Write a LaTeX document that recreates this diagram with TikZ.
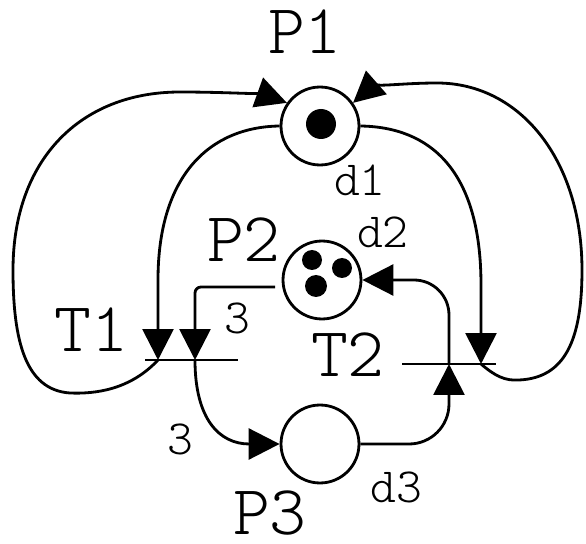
\documentclass[tikz,border=0pt]{standalone}
\usepackage{fontspec}
\newfontfamily\thinmono{Latin Modern Mono Light}
\usepackage{tikz}
\usetikzlibrary{arrows.meta}

\begin{document}
\begin{tikzpicture}[x=0.02cm,y=-0.02cm,>={Triangle[length=0.62cm,width=0.62cm]},
    place/.style={circle,draw,line width=1.6pt,minimum size=1.56cm,inner sep=0pt},
    flow/.style={->,line width=1.6pt},
    bar/.style={line width=1.6pt},
    big/.style={inner sep=0pt,font=\fontsize{40}{40}\selectfont\thinmono},
    small/.style={inner sep=0pt,font=\fontsize{28}{28}\selectfont\thinmono}]
    \useasboundingbox (0,0) rectangle (586,544);
    % places
    \node[place] (p1) at (320,126) {};
    \node[place] (p2) at (322,280) {};
    \node[place] (p3) at (320,444) {};
    \fill (321,124) circle (15);
    \fill (312,260) circle (10);
    \fill (342,268) circle (10);
    \fill (316,286) circle (11);
    % transitions
    \draw[bar] (145,360) -- (238,360);
    \draw[bar] (402,364) -- (496,364);
    \coordinate (t1a) at (158,360);
    \coordinate (t1b) at (195,360);
    \coordinate (t2a) at (449,364);
    \coordinate (t2b) at (481,364);
    % labels
    \node[big] (lp1) at (305,32) {P1};
    \node[big] (lp2) at (244,240) {P2};
    \node[big] (lp3) at (270,513) {P3};
    \node[big] (lt1) at (91,330) {T1};
    \node[big] (lt2) at (348,355) {T2};
    \node[small] (ld1) at (360,180) {d1};
    \node[small] (ld2) at (383,232) {d2};
    \node[small] (ld3) at (396,487) {d3};
    \node[small] (lw1) at (237,318) {3};
    \node[small] (lw2) at (180,439) {3};
    % arcs
    \draw[flow] (t1a) .. controls (130,390) and (95,394) .. (70,393)
      .. controls (25,390) and (13,340) .. (13,270)
      .. controls (13,160) and (80,92) .. (180,92)
      .. controls (230,92) and (265,95) .. (p1.145);
    \draw[flow] (p1.west) .. controls (210,127) and (158,175) .. (158,280) -- (t1a);
    \draw[flow] (t2b) .. controls (495,376) and (505,381) .. (519,380)
      .. controls (565,378) and (582,340) .. (582,270)
      .. controls (582,160) and (520,83) .. (437,83)
      .. controls (400,83) and (370,88) .. (p1.35);
    \draw[flow] (p1.east) .. controls (430,127) and (481,170) .. (481,285) -- (t2b);
    \draw[flow,rounded corners=0.12cm,shorten <=0.14cm] (p2.190) -| (t1b);
    \draw[flow] (t1b) .. controls (195,420) and (220,444) .. (p3.west);
    \draw[flow,rounded corners=0.8cm] (p3.east) -| (t2a);
    \draw[flow,rounded corners=0.7cm] (t2a) |- (p2.east);
\end{tikzpicture}
\end{document}
